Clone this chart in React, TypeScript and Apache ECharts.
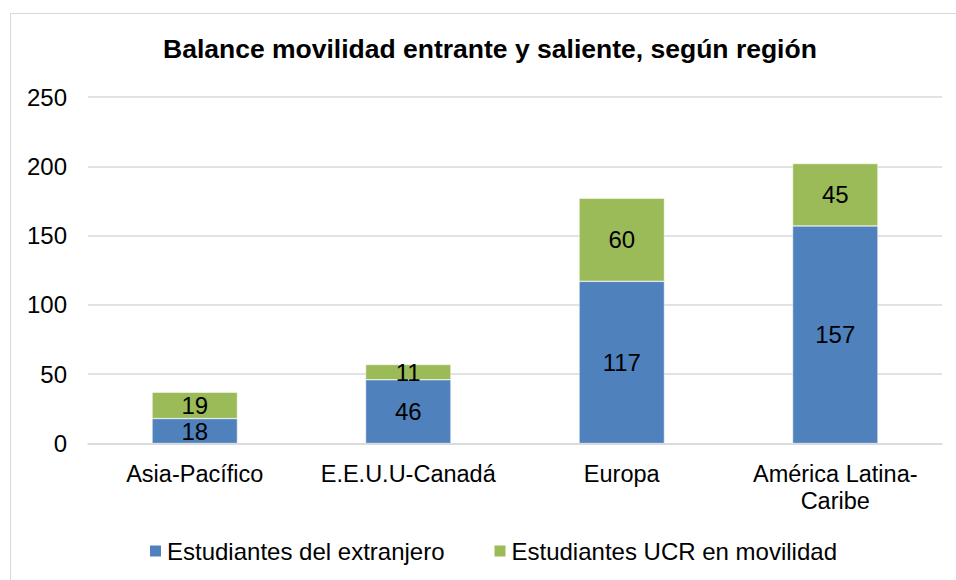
import React, { useEffect, useRef } from "react";
import * as echarts from "echarts";

const categories = ["Asia-Pacífico", "E.E.U.U-Canadá", "Europa", "América Latina-\nCaribe"];
const extranjero = [18, 46, 117, 157];
const ucr = [19, 11, 60, 45];
const seriesNames = ["Estudiantes del extranjero", "Estudiantes UCR en movilidad"];
const titleText = "Balance movilidad entrante y saliente, según región";

export default function App() {
  const ref = useRef<HTMLDivElement>(null);
  useEffect(() => {
    const chart = echarts.init(ref.current!, null, { renderer: "svg" });
    const font = "Liberation Sans, Arial, sans-serif";
    chart.setOption({
      animation: false,
      backgroundColor: "#ffffff",
      textStyle: { fontFamily: font },
      title: {
        text: titleText,
        left: 158,
        top: 30,
        textStyle: { fontFamily: font, fontSize: 26.5, fontWeight: "bold", color: "#000" },
      },
      graphic: [
        {
          type: "rect",
          shape: { x: 10.5, y: 13.5, width: 960, height: 600 },
          style: { fill: "none", stroke: "#d9d9d9", lineWidth: 1 },
          silent: true,
        },
      ],
      grid: { left: 88, right: 14, top: 97, bottom: 136.5 },
      legend: {
        bottom: 12,
        left: 143,
        itemWidth: 13,
        itemHeight: 13,
        itemGap: 48,
        icon: "rect",
        textStyle: { fontFamily: font, fontSize: 24, color: "#000" },
        data: seriesNames,
      },
      xAxis: {
        type: "category",
        data: categories,
        axisLine: { lineStyle: { color: "#d9d9d9", width: 1.5 } },
        axisTick: { show: false },
        axisLabel: { interval: 0, fontFamily: font, fontSize: 23.5, color: "#000", margin: 17, lineHeight: 27 },
      },
      yAxis: {
        type: "value",
        min: 0,
        max: 250,
        interval: 50,
        axisLine: { show: false },
        axisTick: { show: false },
        splitLine: { lineStyle: { color: "#d9d9d9", width: 1.5 } },
        axisLabel: { fontFamily: font, fontSize: 24, color: "#000", margin: 21 },
      },
      series: [
        {
          name: seriesNames[0],
          type: "bar",
          stack: "total",
          data: extranjero,
          barWidth: "40%",
          itemStyle: { color: "#4F81BD", borderColor: "#ffffff", borderWidth: 0.5 },
          label: { show: true, position: "inside", fontFamily: font, fontSize: 24, color: "#000" },
        },
        {
          name: seriesNames[1],
          type: "bar",
          stack: "total",
          data: ucr,
          barWidth: "40%",
          itemStyle: { color: "#9BBB59", borderColor: "#ffffff", borderWidth: 0.5 },
          label: { show: true, position: "inside", fontFamily: font, fontSize: 24, color: "#000" },
        },
      ],
    });
    return () => chart.dispose();
  }, []);
  return (
    <div
      ref={ref}
      style={{ position: "fixed", left: 0, top: 0, width: 956, height: 580 }}
    />
  );
}
